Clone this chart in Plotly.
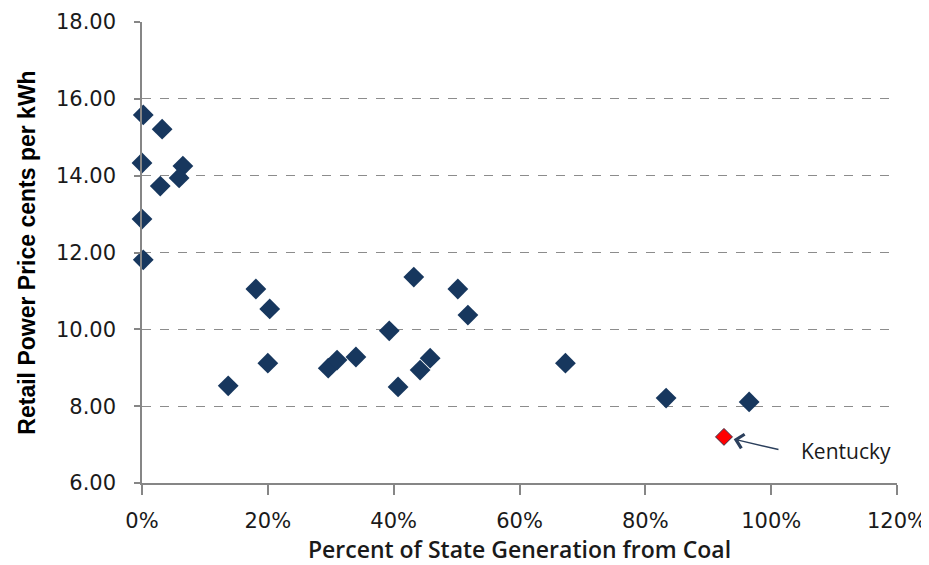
import plotly.graph_objects as go

# Share of state generation from coal (fraction) and retail price (cents/kWh)
coal_share = [0.002, 0.032, 0.000, 0.065, 0.059, 0.029, 0.000, 0.002,
              0.181, 0.203, 0.137, 0.200, 0.296, 0.310, 0.340, 0.393,
              0.407, 0.432, 0.442, 0.458, 0.502, 0.518, 0.673, 0.833, 0.965]
price = [15.58, 15.21, 14.33, 14.25, 13.94, 13.73, 12.87, 11.81,
         11.05, 10.53, 8.53, 9.12, 8.99, 9.20, 9.28, 9.96,
         8.50, 11.36, 8.94, 9.25, 11.05, 10.37, 9.12, 8.21, 8.11]

ky_name = "Kentucky"
ky_share = [0.925]
ky_price = [7.20]

x_ticks = [0, 0.2, 0.4, 0.6, 0.8, 1.0, 1.2]
y_ticks = [6, 8, 10, 12, 14, 16, 18]

navy = "#17375E"
tick_font = dict(family="DejaVu Sans", size=21, color="#1a1a1a")

fig = go.Figure()
fig.add_trace(go.Scatter(
    x=coal_share, y=price, mode="markers",
    marker=dict(symbol="diamond", size=16, color=navy),
    cliponaxis=False, showlegend=False, hoverinfo="x+y"))
fig.add_trace(go.Scatter(
    x=ky_share, y=ky_price, mode="markers",
    marker=dict(symbol="diamond", size=13, color="#FF0000",
                line=dict(color="#3a2a40", width=1)),
    cliponaxis=False, showlegend=False, name=ky_name))

# arrow pointing at Kentucky
fig.add_annotation(
    x=ky_share[0], y=ky_price[0], xref="x", yref="y",
    text="", showarrow=True, ax=56, ay=13,
    axref="pixel", ayref="pixel",
    arrowhead=4, arrowsize=2.0, arrowwidth=1.4, arrowcolor="#2b3f5c",
    standoff=10)
# label
fig.add_annotation(
    x=ky_share[0], y=ky_price[0], xref="x", yref="y",
    text=ky_name, showarrow=False, xshift=122, yshift=-14,
    xanchor="center", yanchor="middle",
    font=dict(family="Open Sans", size=21, color="#1a1a1a"))

fig.update_layout(
    width=929, height=565,
    margin=dict(l=134, r=40, t=14, b=90),
    paper_bgcolor="white", plot_bgcolor="white",
    xaxis=dict(
        range=[0, 1.2], tickvals=x_ticks, tickformat=".0%",
        automargin=False,
        showgrid=False, zeroline=False,
        showline=True, linecolor="#868686", linewidth=1.5,
        ticks="outside", ticklen=10, tickcolor="#868686", tickwidth=1.5,
        ticklabelstandoff=8,
        tickfont=tick_font,
        title=dict(text="Percent of State Generation from Coal",
                   font=dict(family="Open Sans", size=23, color="#1a1a1a", weight=600),
                   standoff=6)),
    yaxis=dict(
        range=[6, 18], tickvals=y_ticks, tickformat=".2f",
        automargin=False,
        showgrid=True, gridcolor="#8c8c8c", griddash="dash", gridwidth=1,
        zeroline=False,
        showline=True, linecolor="#868686", linewidth=1.5,
        ticks="outside", ticklen=6, tickcolor="#868686", tickwidth=1.5,
        ticklabelstandoff=14,
        tickfont=tick_font,
        title=dict(text="Retail Power Price cents per kWh",
                   font=dict(family="Liberation Sans", size=23, color="#000000", weight="bold"),
                   standoff=14)),
)

fig.write_html("out.html")
